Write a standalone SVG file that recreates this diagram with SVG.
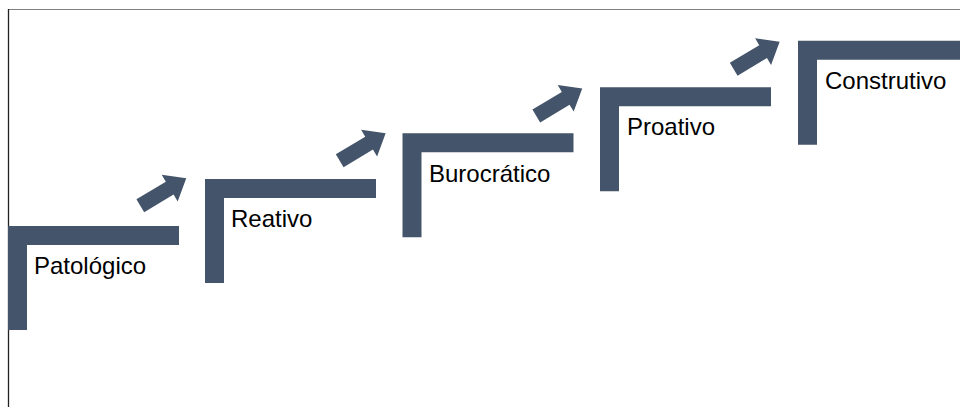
<svg xmlns="http://www.w3.org/2000/svg" xmlns:xlink="http://www.w3.org/1999/xlink" width="960" height="407" viewBox="0 0 960 407">
<style>
.bar{fill:#44546A}
.lbl{font-family:"Liberation Sans",Arial,sans-serif;font-size:24px;fill:#000}
.arrow{fill:#44546A}
</style>
<defs>
<path id="arr" d="M0,-7.5 L34.3,-7.5 L34.3,-15.5 L53.6,0 L34.3,15.5 L34.3,7.5 L0,7.5 Z"/>
<path id="step" d="M0,0 H171 V19 H19 V104 H0 Z"/>
</defs>
<rect width="960" height="407" fill="#fff"/>
<line x1="8" y1="9.5" x2="960" y2="9.5" stroke="#808080" stroke-width="1"/>
<line x1="8.5" y1="9" x2="8.5" y2="407" stroke="#222" stroke-width="1.3"/>
<g id="connectors">
<use xlink:href="#arr" class="arrow" transform="translate(140.3,205.8) rotate(-31)"/>
<use xlink:href="#arr" class="arrow" transform="translate(339.7,160.8) rotate(-31)"/>
<use xlink:href="#arr" class="arrow" transform="translate(536.3,116) rotate(-31)"/>
<use xlink:href="#arr" class="arrow" transform="translate(733.7,69.3) rotate(-31)"/>
</g>
<g id="n1">
<use xlink:href="#step" class="bar" transform="translate(8,226)"/>
<text class="lbl" x="34" y="274">Patológico</text>
</g>
<g id="n2">
<use xlink:href="#step" class="bar" transform="translate(205,179)"/>
<text class="lbl" x="231" y="227">Reativo</text>
</g>
<g id="n3">
<use xlink:href="#step" class="bar" transform="translate(402.5,133.3)"/>
<text class="lbl" x="429" y="181.5">Burocrático</text>
</g>
<g id="n4">
<use xlink:href="#step" class="bar" transform="translate(600,87.3)"/>
<text class="lbl" x="627" y="135">Proativo</text>
</g>
<g id="n5">
<use xlink:href="#step" class="bar" transform="translate(798,40.7)"/>
<text class="lbl" x="825" y="88.5">Construtivo</text>
</g>
</svg>
